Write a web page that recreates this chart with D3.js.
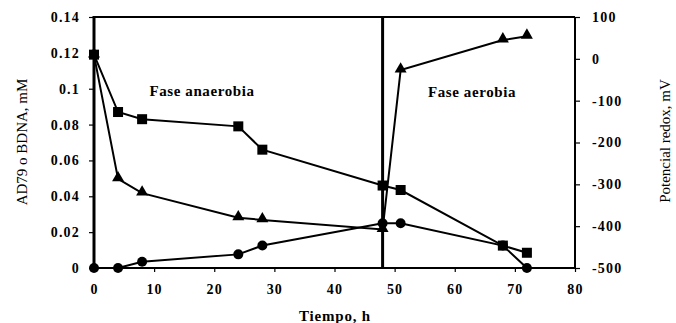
<!DOCTYPE html>
<html>
<head>
<meta charset="utf-8">
<script src="https://cdn.jsdelivr.net/npm/d3@7"></script>
<style>
  html, body { margin: 0; padding: 0; background: #fff; }
  svg { display: block; }
  text { font-family: "Liberation Serif", "Times New Roman", serif; fill: #000; }
</style>
</head>
<body>
<svg id="chart" width="676" height="323"></svg>
<script>
// Time points (h)
const tiempo = [0, 4, 8, 24, 28, 48, 51, 68, 72];
// AD79 concentration, mM (squares)
const ad79 = [0.119, 0.087, 0.083, 0.079, 0.066, 0.046, 0.0435, 0.0125, 0.0085];
// BDNA concentration, mM (circles)
const bdna = [0, 0, 0.0035, 0.0076, 0.0125, 0.025, 0.025, 0.0125, 0];
// Redox potential, mV (triangles)
const redox = [9, -287, -321, -380, -385, -408, -27, 45, 54];

const xTicks = [0, 10, 20, 30, 40, 50, 60, 70, 80];
const yLeftTicks = [0, 0.02, 0.04, 0.06, 0.08, 0.1, 0.12, 0.14];
const yRightTicks = [-500, -400, -300, -200, -100, 0, 100];
const phaseChange = 48;

const svg = d3.select("#chart");
const plotL = 94, plotR = 575, plotT = 17, plotB = 268;

const x = d3.scaleLinear().domain([0, 80]).range([plotL, plotR]);
const yL = d3.scaleLinear().domain([0, 0.14]).range([plotB, plotT]);
const yR = d3.scaleLinear().domain([-500, 100]).range([plotB, plotT]);

// Left axis
const axL = svg.append("g").attr("transform", `translate(${plotL},0)`)
  .call(d3.axisLeft(yL).tickValues(yLeftTicks).tickSize(5).tickPadding(9)
    .tickFormat(d => d === 0 ? "0" : String(+d.toFixed(2))));
// Right axis (plain hyphen for negatives)
const axR = svg.append("g").attr("transform", `translate(${plotR},0)`)
  .call(d3.axisRight(yR).tickValues(yRightTicks).tickSize(5).tickPadding(12)
    .tickFormat(d => String(d)));
// Bottom axis
const axB = svg.append("g").attr("transform", `translate(0,${plotB})`)
  .call(d3.axisBottom(x).tickValues(xTicks).tickSize(4).tickPadding(12));

[axL, axR, axB].forEach(g => {
  g.select(".domain").remove();
  g.selectAll("line").attr("stroke", "#000").attr("stroke-width", 1.2);
  g.selectAll("text").attr("font-size", 14).attr("font-weight", "bold")
    .attr("letter-spacing", 1.2).attr("font-family", "Liberation Serif");
});

// Plot frame
svg.append("line").attr("x1", plotL).attr("x2", plotR).attr("y1", plotT).attr("y2", plotT)
  .attr("stroke", "#000").attr("stroke-width", 2);
svg.append("line").attr("x1", plotR).attr("x2", plotR).attr("y1", plotT).attr("y2", plotB)
  .attr("stroke", "#000").attr("stroke-width", 2);
svg.append("line").attr("x1", plotL).attr("x2", plotR).attr("y1", plotB).attr("y2", plotB)
  .attr("stroke", "#000").attr("stroke-width", 2);
svg.append("line").attr("x1", plotL).attr("x2", plotL).attr("y1", plotT - 1).attr("y2", plotB + 1)
  .attr("stroke", "#000").attr("stroke-width", 3);

// Phase boundary
svg.append("line").attr("x1", x(phaseChange)).attr("x2", x(phaseChange))
  .attr("y1", plotT).attr("y2", plotB)
  .attr("stroke", "#000").attr("stroke-width", 3);

// Series
const lineStyle = sel => sel.attr("fill", "none").attr("stroke", "#000").attr("stroke-width", 2);

const lineAd = d3.line().x((d, i) => x(tiempo[i])).y(d => yL(d));
const lineRx = d3.line().x((d, i) => x(tiempo[i])).y(d => yR(d));

svg.append("path").datum(bdna).attr("d", lineAd).call(lineStyle);
svg.append("path").datum(redox).attr("d", lineRx).call(lineStyle);
svg.append("path").datum(ad79).attr("d", lineAd).call(lineStyle);

// Circles (BDNA)
svg.selectAll(".c").data(bdna).enter().append("circle")
  .attr("cx", (d, i) => x(tiempo[i])).attr("cy", d => yL(d)).attr("r", 5)
  .attr("fill", "#000");
// Triangles (redox)
const tri = d3.symbol().type(d3.symbolTriangle).size(62);
svg.selectAll(".t").data(redox).enter().append("path")
  .attr("d", tri)
  .attr("transform", (d, i) => `translate(${x(tiempo[i])},${yR(d) - 1})`)
  .attr("fill", "#000");
// Squares (AD79)
const sq = 10;
svg.selectAll(".s").data(ad79).enter().append("rect")
  .attr("x", (d, i) => x(tiempo[i]) - sq / 2).attr("y", d => yL(d) - sq / 2)
  .attr("width", sq).attr("height", sq).attr("fill", "#000");

// Phase labels
svg.append("text").attr("x", 202).attr("y", 96).attr("text-anchor", "middle")
  .attr("font-size", 15).attr("font-weight", "bold").attr("letter-spacing", 0.6)
  .text("Fase anaerobia");
svg.append("text").attr("x", 472).attr("y", 97).attr("text-anchor", "middle")
  .attr("font-size", 15).attr("font-weight", "bold").attr("letter-spacing", 0.6)
  .text("Fase aerobia");

// Axis titles
svg.append("text").attr("x", 335).attr("y", 321).attr("text-anchor", "middle")
  .attr("font-size", 15).attr("font-weight", "bold").attr("letter-spacing", 0.8)
  .text("Tiempo, h");
svg.append("text").attr("transform", "translate(27,142) rotate(-90)")
  .attr("text-anchor", "middle").attr("font-size", 15)
  .text("AD79 o BDNA, mM");
svg.append("text").attr("transform", "translate(670,141) rotate(-90)")
  .attr("text-anchor", "middle").attr("font-size", 15)
  .text("Potencial redox, mV");
</script>
</body>
</html>
